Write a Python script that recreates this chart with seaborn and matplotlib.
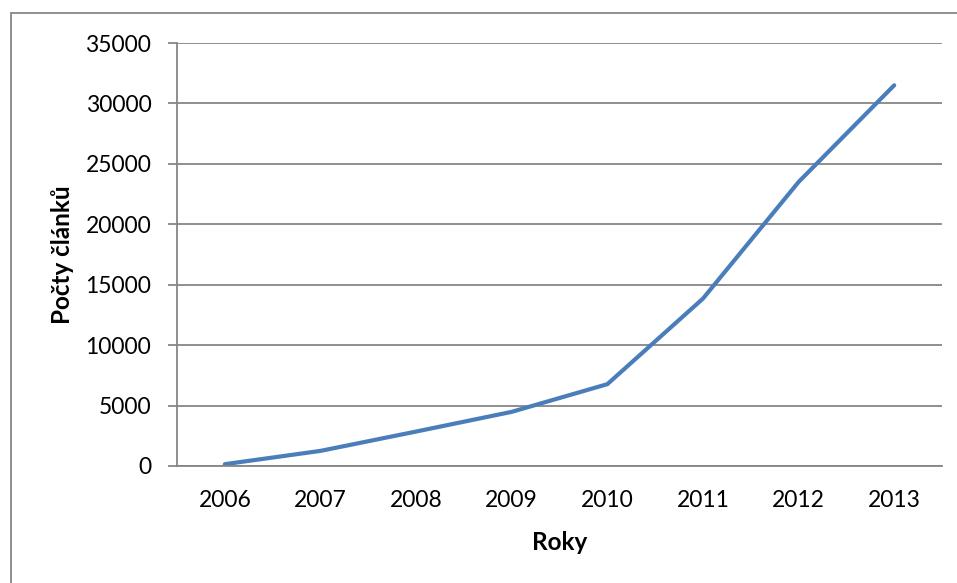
import matplotlib
matplotlib.use("Agg")
import matplotlib.pyplot as plt
import seaborn as sns
import pandas as pd
from matplotlib.patches import Rectangle

years = ["2006", "2007", "2008", "2009", "2010", "2011", "2012", "2013"]
counts = [150, 1250, 2850, 4480, 6770, 13850, 23500, 31500]
y_ticks = [0, 5000, 10000, 15000, 20000, 25000, 30000, 35000]

sns.set_theme(style="white")
plt.rcParams['font.family'] = ['Lato', 'DejaVu Sans']

W, H = 957, 583
fig = plt.figure(figsize=(W / 100, H / 100), dpi=100)
fig.patch.set_facecolor("white")
ax = fig.add_axes([177 / W, 1 - 466 / H, (942 - 177) / W, (466 - 43) / H])

df = pd.DataFrame({"Roky": years, "Počty článků": counts})
sns.lineplot(data=df, x="Roky", y="Počty článků", ax=ax, color="#4a7ebb",
             linewidth=3.0, solid_capstyle="round", solid_joinstyle="round")

ax.set_xlim(-0.5, len(years) - 0.5)
ax.set_ylim(0, 35000)
ax.set_yticks(y_ticks)
ax.set_yticklabels([str(v) for v in y_ticks])
ax.yaxis.grid(True, color="#868686", linewidth=1.3)
ax.xaxis.grid(False)
for s in ["top", "right"]:
    ax.spines[s].set_visible(False)
for s in ["left", "bottom"]:
    ax.spines[s].set_color("#868686")
    ax.spines[s].set_linewidth(1.3)

ax.tick_params(axis="y", which="major", direction="out", length=6.5, width=1.3,
               color="#868686", pad=12, labelsize=16.5, labelcolor="black", left=True)
ax.tick_params(axis="x", which="major", length=0, pad=17, labelsize=16.5, labelcolor="black")

ax.set_xlabel("Roky", fontsize=17.5, fontweight="bold", color="black")
ax.set_ylabel("Počty článků", fontsize=17.5, fontweight="bold", color="black")
ax.xaxis.set_label_coords(0.5, -0.182)
ax.yaxis.set_label_coords(-0.150, 0.5)
ax.xaxis.label.set_verticalalignment("center")
ax.yaxis.label.set_verticalalignment("center")

border = Rectangle((11 / W, -0.2), 1.5, 1.2 - 13 / H, transform=fig.transFigure,
                   fill=False, edgecolor="#868686", linewidth=1.3, clip_on=False)
fig.patches.append(border)

fig.savefig("out.png", dpi=100, facecolor="white")
